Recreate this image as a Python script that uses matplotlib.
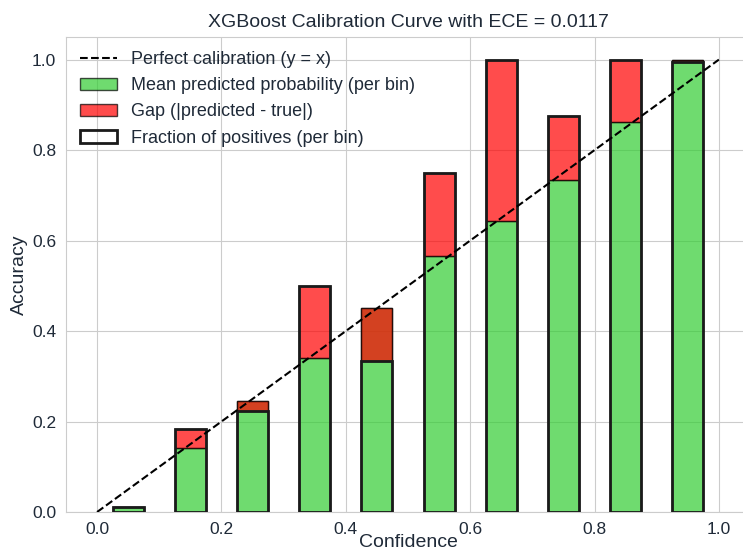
import matplotlib
matplotlib.use('Agg')  # Use non-interactive backend
import matplotlib.pyplot as plt
import seaborn as sns
import numpy as np

# Per-bin values
bin_centers = [0.05, 0.15, 0.25, 0.35, 0.45, 0.55, 0.65, 0.75, 0.85, 0.95]
mean_predicted = [0.010, 0.142, 0.246, 0.341, 0.451, 0.566, 0.644, 0.735, 0.863, 0.999]
fraction_positives = [0.012, 0.184, 0.223, 0.500, 0.334, 0.750, 1.000, 0.876, 1.000, 0.994]
ece = 0.0117

sns.set_style('whitegrid')
plt.rcParams['font.family'] = ['Liberation Sans', 'DejaVu Sans']
text_color = '#1f2a38'

fig = plt.figure(figsize=(7.43, 5.53), dpi=100)
ax = fig.add_axes([0.0888, 0.0741, 0.9206, 0.859])

conf = np.array(mean_predicted)
acc = np.array(fraction_positives)
gap_bottom = np.minimum(conf, acc)
gap_height = np.abs(conf - acc)
width = 0.05

ax.plot([0, 1], [0, 1], linestyle='--', color='black', linewidth=1.5,
        label='Perfect calibration (y = x)', zorder=5)
ax.bar(bin_centers, conf, width=width, color='limegreen', alpha=0.7,
       edgecolor='black', linewidth=1, label='Mean predicted probability (per bin)', zorder=2)
ax.bar(bin_centers, gap_height, bottom=gap_bottom, width=width, color='red', alpha=0.7,
       edgecolor='black', linewidth=1, label='Gap (|predicted - true|)', zorder=3)
ax.bar(bin_centers, acc, width=width, fill=False, edgecolor='#1a1a1a',
       linewidth=2, label='Fraction of positives (per bin)', zorder=4)

ax.set_xlim(-0.05, 1.05)
ax.set_ylim(0, 1.05)
ax.set_xticks([0.0, 0.2, 0.4, 0.6, 0.8, 1.0])
ax.set_yticks([0.0, 0.2, 0.4, 0.6, 0.8, 1.0])
ax.tick_params(labelsize=12.5, colors=text_color)
ax.set_xlabel('Confidence', fontsize=14, color=text_color, labelpad=-2)
ax.set_ylabel('Accuracy', fontsize=14, color=text_color, labelpad=3)
ax.set_title(f'XGBoost Calibration Curve with ECE = {ece:.4f}', fontsize=14,
             color=text_color, pad=7)

leg = ax.legend(loc='upper left', fontsize=13, frameon=False, labelcolor=text_color,
                borderaxespad=0.4)

plt.savefig('out.png', dpi=100)
plt.close(fig)
